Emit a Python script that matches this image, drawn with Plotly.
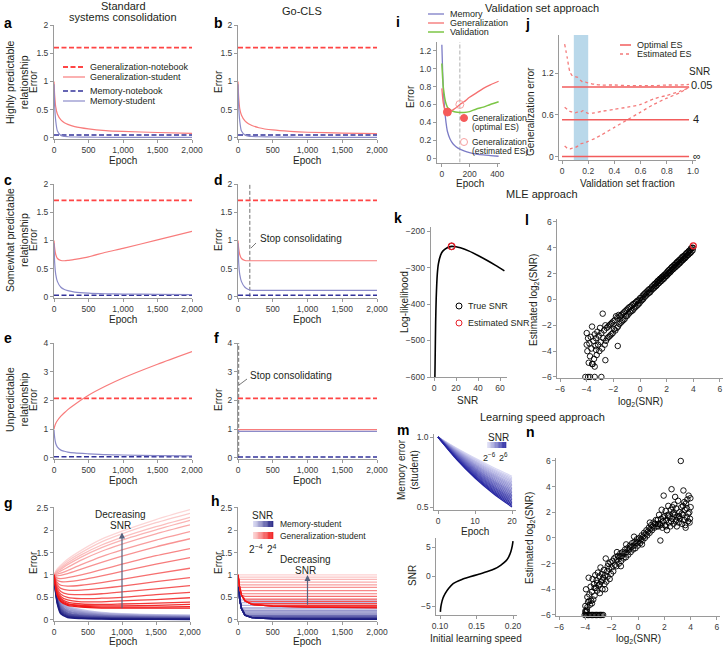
import plotly.graph_objects as go

W, H = 723, 648
FONT = "Liberation Sans"
TXT = "#231f20"
AXC = "#9a9a9a"
TICKC = "#3a3a3a"
ARROWC = "#56627e"

# ======================= DATA =======================
EPOCHS = [0, 10, 25, 50, 100, 150, 200, 300, 500, 750, 1000, 1500, 2000]
EPOCH_TICKS = [0, 500, 1000, 1500, 2000]
EPOCH_TICKTEXT = ["0", "500", "1,000", "1,500", "2,000"]

A_GEN_NB, A_MEM_NB = 1.60, 0.05
A_GEN_ST = [1.0, 0.75, 0.55, 0.42, 0.32, 0.27, 0.24, 0.2, 0.16, 0.13, 0.115, 0.095, 0.08]
A_MEM_ST = [0.95, 0.55, 0.3, 0.12, 0.04, 0.025, 0.02, 0.015, 0.012, 0.01, 0.01, 0.01, 0.01]

B_GEN_NB, B_MEM_NB = 1.60, 0.05
B_GEN_ST = [1.0, 0.72, 0.52, 0.4, 0.3, 0.25, 0.22, 0.18, 0.14, 0.115, 0.1, 0.085, 0.075]
B_MEM_ST = [0.95, 0.55, 0.3, 0.12, 0.05, 0.03, 0.025, 0.02, 0.015, 0.012, 0.01, 0.01, 0.01]

C_GEN_NB, C_MEM_NB = 1.71, 0.03
C_GEN_ST = [1.0, 0.86, 0.75, 0.68, 0.645, 0.64, 0.645, 0.665, 0.71, 0.79, 0.86, 1.01, 1.16]
C_MEM_ST = [0.95, 0.6, 0.4, 0.27, 0.17, 0.13, 0.11, 0.085, 0.065, 0.055, 0.05, 0.045, 0.04]

D_GEN_NB, D_MEM_NB = 1.71, 0.03
D_GEN_ST = [1.0, 0.86, 0.75, 0.68, 0.645, 0.64, 0.64, 0.64, 0.64, 0.64, 0.64, 0.64, 0.64]
D_MEM_ST = [0.95, 0.6, 0.4, 0.27, 0.17, 0.13, 0.115, 0.115, 0.115, 0.115, 0.115, 0.115, 0.115]
D_STOP = 170

E_GEN_NB, E_MEM_NB = 2.07, 0.04
E_GEN_ST = [1.0, 1.1, 1.2, 1.3, 1.45, 1.57, 1.68, 1.86, 2.18, 2.5, 2.78, 3.26, 3.7]
E_MEM_ST = [0.98, 0.7, 0.5, 0.37, 0.27, 0.23, 0.2, 0.17, 0.14, 0.11, 0.1, 0.08, 0.07]

F_GEN_NB, F_MEM_NB = 2.07, 0.03
F_GEN_ST = [1.0, 0.98, 0.98, 0.98, 0.98, 0.98, 0.98, 0.98, 0.98, 0.98, 0.98, 0.98, 0.98]
F_MEM_ST = [0.98, 0.92, 0.92, 0.92, 0.92, 0.92, 0.92, 0.92, 0.92, 0.92, 0.92, 0.92, 0.92]
F_STOP = 10

G_EPOCHS = [0, 25, 50, 100, 200, 400, 700, 1000, 1500, 2000]
G_GEN = [  # low SNR (top) -> high SNR (bottom)
    [1.0, 1.08, 1.14, 1.22, 1.35, 1.55, 1.8, 1.98, 2.24, 2.46],
    [1.0, 1.07, 1.12, 1.19, 1.31, 1.5, 1.74, 1.92, 2.17, 2.38],
    [1.0, 1.06, 1.1, 1.16, 1.27, 1.45, 1.67, 1.84, 2.08, 2.29],
    [1.0, 1.05, 1.08, 1.13, 1.23, 1.4, 1.61, 1.78, 2.01, 2.22],
    [1.0, 1.03, 1.05, 1.09, 1.17, 1.33, 1.53, 1.69, 1.92, 2.12],
    [1.0, 1.01, 1.02, 1.04, 1.1, 1.23, 1.41, 1.56, 1.78, 1.97],
    [1.0, 0.99, 0.98, 0.99, 1.03, 1.13, 1.28, 1.42, 1.63, 1.81],
    [1.0, 0.96, 0.93, 0.92, 0.94, 1.0, 1.12, 1.24, 1.43, 1.59],
    [1.0, 0.93, 0.88, 0.85, 0.85, 0.89, 0.98, 1.08, 1.24, 1.39],
    [1.0, 0.9, 0.83, 0.77, 0.75, 0.77, 0.83, 0.9, 1.03, 1.15],
    [1.0, 0.87, 0.78, 0.7, 0.66, 0.66, 0.7, 0.75, 0.85, 0.94],
    [1.0, 0.84, 0.73, 0.63, 0.57, 0.56, 0.58, 0.62, 0.69, 0.76],
    [1.0, 0.81, 0.68, 0.57, 0.5, 0.47, 0.48, 0.5, 0.56, 0.61],
    [1.0, 0.78, 0.64, 0.52, 0.44, 0.4, 0.4, 0.42, 0.45, 0.49],
    [1.0, 0.76, 0.6, 0.48, 0.39, 0.35, 0.34, 0.35, 0.37, 0.39],
    [1.0, 0.74, 0.57, 0.45, 0.36, 0.32, 0.31, 0.31, 0.32, 0.34],
    [1.0, 0.72, 0.55, 0.42, 0.34, 0.3, 0.28, 0.28, 0.28, 0.29],
    [1.0, 0.7, 0.53, 0.4, 0.32, 0.28, 0.26, 0.26, 0.26, 0.26],
]
G_MEM = [  # low SNR (light) -> high SNR (dark)
    [1.0, 0.8, 0.65, 0.47, 0.32, 0.22, 0.16, 0.13, 0.11, 0.1],
    [1.0, 0.78, 0.62, 0.44, 0.29, 0.2, 0.145, 0.12, 0.1, 0.09],
    [1.0, 0.76, 0.59, 0.41, 0.26, 0.18, 0.13, 0.11, 0.09, 0.08],
    [1.0, 0.74, 0.56, 0.38, 0.23, 0.16, 0.115, 0.095, 0.08, 0.07],
    [1.0, 0.72, 0.53, 0.34, 0.2, 0.14, 0.1, 0.085, 0.07, 0.06],
    [1.0, 0.7, 0.5, 0.31, 0.18, 0.12, 0.09, 0.075, 0.06, 0.05],
    [1.0, 0.68, 0.47, 0.28, 0.15, 0.1, 0.075, 0.06, 0.05, 0.04],
    [1.0, 0.67, 0.45, 0.25, 0.13, 0.085, 0.06, 0.05, 0.04, 0.035],
    [1.0, 0.65, 0.42, 0.22, 0.11, 0.07, 0.05, 0.04, 0.03, 0.025],
    [1.0, 0.64, 0.4, 0.19, 0.09, 0.055, 0.04, 0.03, 0.022, 0.018],
    [1.0, 0.62, 0.38, 0.16, 0.07, 0.04, 0.025, 0.02, 0.015, 0.012],
    [1.0, 0.6, 0.35, 0.13, 0.05, 0.025, 0.015, 0.01, 0.008, 0.005],
]
G_ARROW = (1000, 0.22, 1.95)

H_EPOCHS = [0, 10, 25, 50, 100, 200, 500, 1000, 2000]
H_GEN = [
    [1.0, 1.0, 1.0, 1.0, 1.0, 1.0, 1.0, 1.0, 1.0],
    [1.0, 0.95, 0.95, 0.95, 0.95, 0.95, 0.95, 0.95, 0.95],
    [1.0, 0.9, 0.9, 0.9, 0.9, 0.9, 0.9, 0.9, 0.9],
    [1.0, 0.85, 0.84, 0.84, 0.84, 0.84, 0.84, 0.84, 0.84],
    [1.0, 0.85, 0.78, 0.78, 0.78, 0.78, 0.78, 0.78, 0.78],
    [1.0, 0.85, 0.72, 0.72, 0.72, 0.72, 0.72, 0.72, 0.72],
    [1.0, 0.85, 0.7, 0.65, 0.65, 0.65, 0.65, 0.65, 0.65],
    [1.0, 0.85, 0.7, 0.58, 0.58, 0.58, 0.58, 0.58, 0.58],
    [1.0, 0.85, 0.7, 0.55, 0.52, 0.52, 0.52, 0.52, 0.52],
    [1.0, 0.85, 0.7, 0.55, 0.46, 0.46, 0.46, 0.46, 0.46],
    [1.0, 0.85, 0.7, 0.55, 0.42, 0.41, 0.41, 0.41, 0.41],
    [1.0, 0.85, 0.7, 0.55, 0.42, 0.36, 0.36, 0.36, 0.36],
    [1.0, 0.85, 0.7, 0.55, 0.42, 0.34, 0.32, 0.32, 0.32],
    [1.0, 0.85, 0.7, 0.55, 0.42, 0.34, 0.3, 0.3, 0.3],
    [1.0, 0.85, 0.7, 0.55, 0.42, 0.34, 0.3, 0.28, 0.28],
    [1.0, 0.85, 0.7, 0.55, 0.42, 0.34, 0.3, 0.28, 0.265],
]
H_MEM = [
    [1.0, 0.72, 0.45, 0.44, 0.44, 0.44, 0.44, 0.44, 0.44],
    [1.0, 0.72, 0.45, 0.38, 0.38, 0.38, 0.38, 0.38, 0.38],
    [1.0, 0.72, 0.45, 0.32, 0.32, 0.32, 0.32, 0.32, 0.32],
    [1.0, 0.72, 0.45, 0.26, 0.26, 0.26, 0.26, 0.26, 0.26],
    [1.0, 0.72, 0.45, 0.25, 0.21, 0.21, 0.21, 0.21, 0.21],
    [1.0, 0.72, 0.45, 0.25, 0.17, 0.17, 0.17, 0.17, 0.17],
    [1.0, 0.72, 0.45, 0.25, 0.13, 0.13, 0.13, 0.13, 0.13],
    [1.0, 0.72, 0.45, 0.25, 0.1, 0.1, 0.1, 0.1, 0.1],
    [1.0, 0.72, 0.45, 0.25, 0.1, 0.075, 0.075, 0.075, 0.075],
    [1.0, 0.72, 0.45, 0.25, 0.1, 0.055, 0.055, 0.055, 0.055],
    [1.0, 0.72, 0.45, 0.25, 0.1, 0.045, 0.04, 0.04, 0.04],
    [1.0, 0.72, 0.45, 0.25, 0.1, 0.045, 0.03, 0.03, 0.03],
    [1.0, 0.72, 0.45, 0.25, 0.1, 0.045, 0.02, 0.02, 0.02],
    [1.0, 0.72, 0.45, 0.25, 0.1, 0.045, 0.02, 0.012, 0.012],
    [1.0, 0.72, 0.45, 0.25, 0.1, 0.045, 0.02, 0.012, 0.008],
]
H_ARROW = (1000, 0.3, 1.0)

I_EPOCHS = [0, 10, 20, 30, 40, 60, 80, 100, 130, 160, 200, 250, 300, 350, 410]
I_MEM = [1.27, 0.8, 0.55, 0.4, 0.3, 0.21, 0.16, 0.13, 0.1, 0.08, 0.06, 0.045, 0.035, 0.028, 0.02]
I_GEN = [0.78, 0.62, 0.55, 0.52, 0.515, 0.52, 0.54, 0.56, 0.6, 0.63, 0.68, 0.73, 0.78, 0.82, 0.86]
I_VAL = [1.06, 0.8, 0.68, 0.61, 0.57, 0.54, 0.525, 0.515, 0.51, 0.51, 0.52, 0.55, 0.57, 0.6, 0.63]
I_OPT_ES = (40, 0.515)
I_EST_ES = (130, 0.6)

J_FRAC = [0.02, 0.04, 0.06, 0.08, 0.1, 0.12, 0.14, 0.16, 0.18, 0.2, 0.25, 0.3, 0.4, 0.5, 0.6, 0.7, 0.8, 0.9, 0.97]
J_EST_005 = [1.62, 1.42, 1.22, 1.16, 1.15, 1.14, 1.1, 1.07, 1.07, 1.06, 1.04, 1.03, 1.03, 1.02, 1.02, 1.02, 1.03, 1.03, 1.04]
J_EST_4 = [0.71, 0.68, 0.65, 0.64, 0.63, 0.64, 0.64, 0.66, 0.64, 0.62, 0.63, 0.65, 0.68, 0.71, 0.75, 0.83, 0.88, 0.94, 0.99]
J_EST_INF = [0.15, 0.12, 0.11, 0.12, 0.13, 0.15, 0.18, 0.19, 0.2, 0.22, 0.26, 0.31, 0.42, 0.53, 0.64, 0.75, 0.84, 0.92, 1.0]
J_OPT = [1.0, 0.53, 0.0]
J_SNR_LABELS = ["0.05", "4", "∞"]
J_BAND = (0.09, 0.2)

K_SNR = [0.6, 1, 1.5, 2, 3, 4, 6, 8, 12, 16, 20, 24, 32, 40, 48, 56, 64]
K_LL = [-640, -560, -450, -385, -318, -290, -266, -255, -246, -242, -243, -246, -255, -267, -280, -294, -309]
K_TRUE = (16, -242)
K_EST = (16, -242)

L_X = [3.98, 3.95, 3.9, 3.86, 3.82, 3.78, 3.74, 3.7, 3.66, 3.62, 3.58, 3.54, 3.5, 3.46, 3.42, 3.38, 3.34, 3.3,
       3.26, 3.22, 3.18, 3.14, 3.1, 3.06, 3.02, 2.98, 2.94, 2.9, 2.86, 2.82, 2.78, 2.74, 2.7, 2.66, 2.62, 2.58,
       2.54, 2.5, 2.46, 2.42, 2.38, 2.34, 2.3, 2.26, 2.22, 2.18, 2.14, 2.1, 2.06, 2.02, 1.98, 1.94, 1.9, 1.86,
       1.82, 1.78, 1.74, 1.7, 1.66, 1.62, 1.58, 1.54, 1.5, 1.46, 1.42, 1.38, 1.34, 1.3, 1.26, 1.22, 1.18, 1.14,
       1.1, 1.06, 1.02,
       0.95, 0.9, 0.85, 0.8, 0.75, 0.7, 0.65, 0.6, 0.55, 0.5, 0.45, 0.4, 0.35, 0.3, 0.25, 0.2, 0.15, 0.1, 0.05,
       0.0, -0.05, -0.1, -0.15, -0.2, -0.25, -0.3, -0.35, -0.4, -0.45, -0.5, -0.55, -0.6, -0.65, -0.7, -0.75,
       -0.8, -0.85, -0.9, -0.95, -1.0,
       -1.05, -1.1, -1.15, -1.2, -1.25, -1.3, -1.35, -1.4, -1.45, -1.5, -1.55, -1.6, -1.65, -1.7, -1.75, -1.8,
       -1.85, -1.9, -1.95, -2.0, -2.05, -2.1, -2.15, -2.2, -2.25, -2.3, -2.35, -2.4, -2.45, -2.5, -1.67,
       -2.55, -2.6, -2.65, -2.7, -2.75, -2.8, -2.85, -2.9, -2.95, -3.0, -3.05, -3.1, -3.15, -3.2, -3.25, -3.3,
       -3.35, -3.4, -3.45, -3.5, -3.55, -3.6, -3.65, -3.7, -3.75, -3.8, -3.85, -3.9, -3.95, -4.0, -2.6, -3.4,
       -4.1, -3.9, -3.75, -3.4, -2.9, -3.6, -4.0, -3.3]
L_Y = [4.0, 3.8, 4.0, 3.7, 3.95, 3.6, 3.8, 3.55, 3.75, 3.45, 3.65, 3.4, 3.6, 3.3, 3.5, 3.2, 3.4, 3.15,
       3.35, 3.05, 3.3, 3.0, 3.2, 2.9, 3.1, 2.8, 3.05, 2.75, 2.95, 2.65, 2.9, 2.6, 2.8, 2.5, 2.7, 2.45,
       2.65, 2.35, 2.55, 2.3, 2.5, 2.2, 2.4, 2.1, 2.3, 2.05, 2.25, 1.95, 2.15, 1.85, 2.05, 1.8, 1.95, 1.7,
       1.9, 1.6, 1.8, 1.55, 1.75, 1.45, 1.65, 1.4, 1.6, 1.3, 1.5, 1.25, 1.45, 1.15, 1.35, 1.05, 1.25, 1.0,
       1.2, 0.9, 1.1,
       0.8, 1.0, 0.7, 0.85, 0.55, 0.8, 0.5, 0.7, 0.4, 0.6, 0.3, 0.5, 0.2, 0.4, 0.05, 0.3, -0.05, 0.15, -0.15,
       0.1, -0.3, -0.05, -0.4, -0.1, -0.5, -0.2, -0.6, -0.3, -0.7, -0.35, -0.85, -0.45, -0.9, -0.55, -1.0,
       -0.6, -1.1, -0.7, -1.25, -0.8,
       -1.3, -0.9, -1.5, -1.0, -1.6, -1.1, -1.7, -1.2, -1.8, -1.3, -1.9, -1.2, -2.1, -1.4, -2.2, -1.3,
       -2.4, -1.6, -2.3, -1.7, -2.6, -1.8, -2.7, -1.9, -2.8, -2.0, -2.9, -2.1, -3.0, -2.2, -3.6,
       -3.2, -2.0, -3.5, -2.4, -3.0, -1.1, -3.8, -2.6, -3.3, -2.2, -4.0, -2.8, -3.5, -2.5, -4.3, -3.0,
       -3.6, -2.7, -4.6, -3.2, -5.0, -2.1, -3.8, -2.9, -4.4, -3.4, -4.9, -3.0, -4.0, -3.5, -4.7, -5.2,
       -6.0, -6.0, -6.0, -6.0, -6.0, -5.0, -2.6, -3.9]
L_EST = (4.0, 4.15)

M_EPOCHS = [0, 5, 10, 15, 20]
M_CURVES = [  # low SNR (light) -> high SNR (dark)
    [1.0, 0.921, 0.849, 0.782, 0.72],
    [1.0, 0.918, 0.843, 0.773, 0.71],
    [1.0, 0.915, 0.837, 0.765, 0.70],
    [1.0, 0.911, 0.831, 0.757, 0.69],
    [1.0, 0.908, 0.825, 0.749, 0.68],
    [1.0, 0.905, 0.819, 0.740, 0.67],
    [1.0, 0.901, 0.812, 0.732, 0.66],
    [1.0, 0.898, 0.806, 0.724, 0.65],
    [1.0, 0.894, 0.800, 0.716, 0.64],
    [1.0, 0.891, 0.794, 0.707, 0.63],
    [1.0, 0.887, 0.787, 0.699, 0.62],
    [1.0, 0.884, 0.781, 0.690, 0.61],
    [1.0, 0.880, 0.775, 0.682, 0.60],
    [1.0, 0.876, 0.768, 0.673, 0.59],
    [1.0, 0.873, 0.762, 0.665, 0.58],
    [1.0, 0.869, 0.755, 0.656, 0.57],
    [1.0, 0.865, 0.748, 0.647, 0.56],
    [1.0, 0.861, 0.741, 0.639, 0.55],
    [1.0, 0.857, 0.735, 0.630, 0.54],
    [1.0, 0.853, 0.728, 0.621, 0.53],
    [1.0, 0.849, 0.721, 0.612, 0.52],
    [1.0, 0.845, 0.714, 0.604, 0.51],
    [1.0, 0.841, 0.707, 0.595, 0.50],
]
M_SPEED = [0.1005, 0.101, 0.102, 0.104, 0.107, 0.112, 0.118, 0.13, 0.141, 0.152, 0.164, 0.175, 0.183, 0.19,
           0.194, 0.197, 0.199, 0.2]
M_SNR = [-6, -5.3, -4.6, -3.7, -2.9, -2.0, -1.2, -0.5, -0.06, 0.35, 0.8, 1.3, 1.9, 2.6, 3.3, 4.2, 5.2, 6.0]

N_X = [1.5, 1.55, 1.6, 1.65, 1.7, 1.75, 1.8, 1.85, 1.9, 1.95, 2.0, 2.05, 2.1, 2.15, 2.2, 2.25, 2.3, 2.35, 2.4,
       2.45, 2.5, 2.55, 2.6, 2.65, 2.7, 2.75, 2.8, 2.85, 2.9, 2.95, 3.0, 3.05, 3.1, 3.15, 3.2, 3.25, 3.3, 3.35,
       3.4, 3.45, 3.5, 3.55, 3.6, 3.65, 3.7, 3.75, 3.8, 3.85, 3.9, 3.95, 4.0, 3.98, 3.92, 3.72, 3.52, 3.32,
       3.12, 2.92, 2.72, 2.52, 2.32, 2.12, 1.92, 1.72, 1.52, 3.62, 3.82, 2.62, 2.82, 3.42,
       -2.0, -1.94, -1.88, -1.82, -1.76, -1.7, -1.64, -1.58, -1.52, -1.46, -1.4, -1.34, -1.28, -1.22, -1.16,
       -1.1, -1.04, -0.98, -0.92, -0.86, -0.8, -0.74, -0.68, -0.62, -0.56, -0.5, -0.44, -0.38, -0.32, -0.26,
       -0.2, -0.14, -0.08, -0.02, 0.04, 0.1, 0.16, 0.22, 0.28, 0.34, 0.4, 0.46, 0.52, 0.58, 0.64, 0.7, 0.76,
       0.82, 0.88, 0.94, 1.0, 1.06, 1.12, 1.18, 1.24, 1.3, 1.36, 1.42, -1.6, -0.9, 0.3, -0.3, 0.9, -1.3,
       -2.05, -2.1, -2.15, -2.2, -2.25, -2.3, -2.35, -2.4, -2.45, -2.5, -2.55, -2.6, -2.65, -2.7, -2.75, -2.8,
       -2.85, -2.9, -2.95, -3.0, -3.05, -3.1, -3.15, -3.2, -3.25, -3.3, -3.35, -3.4, -3.45, -3.5, -3.55, -3.6,
       -3.65, -3.7, -3.75, -3.8, -3.85, -3.9, -3.95, -4.0, -3.97, -3.85, -3.7, -3.5, -3.3, -3.1, -2.9, -2.7,
       -2.5, -2.3,
       -4.05, -3.95, -3.85, -3.75, -3.65, -3.55, -3.45, -3.35, -3.25, -3.15, -3.05, -2.95, -2.85, -2.75, -2.65,
       -4.0, -3.9]
N_Y = [1.4, 0.9, 1.8, 1.1, -0.2, 1.5, 2.2, 0.8, 1.3, 3.3, 1.7, 1.0, 2.1, 1.4, 0.6, 1.8, 2.5, 1.2, 1.6,
       0.9, 2.2, 3.8, 1.5, 1.9, 1.1, 2.6, 1.8, 1.3, 2.3, 0.9, 1.6, 2.9, 1.2, 2.0, 1.5, 6.0, 2.4, 1.1,
       1.8, 3.7, 1.4, 2.2, 1.0, 2.7, 1.6, 3.0, 1.3, 3.3, 2.0, 1.5, 2.4, 3.1, 1.2, 2.3, 2.8, 1.9,
       1.7, 1.4, 2.0, 1.3, 1.7, 0.9, 1.6, 1.0, 1.1, 0.8, 1.9, 2.4, 3.2, 2.5,
       -2.3, -1.8, -2.6, -1.6, -2.1, -1.5, -2.2, -1.7, -1.4, -2.0, -1.5, -1.2, -1.8, -1.4, -1.1,
       -1.6, -1.2, -0.9, -1.5, -1.1, -0.8, -1.3, -0.9, -0.6, -1.1, -0.7, -0.4, -0.9, -0.6, -0.3,
       -0.8, -0.4, -0.1, -0.6, -0.3, 0.0, -0.4, -0.1, 0.2, -0.2, 0.1, 0.4, 0.0, 0.3, 0.6, 0.2, 0.5,
       0.8, 0.4, 0.7, 1.0, 0.6, 0.9, 1.2, 0.8, 1.1, 1.4, 0.9, -1.1, -0.5, -0.5, 0.1, 1.2, -2.2,
       -2.8, -1.9, -3.2, -2.4, -2.0, -3.0, -2.6, -3.4, -1.6, -2.9, -3.6, -2.5, -3.1, -4.0, -2.8, -3.4,
       -2.3, -4.3, -3.0, -3.7, -2.7, -4.1, -3.3, -3.9, -2.9, -4.5, -3.6, -4.8, -3.2, -4.2, -4.9, -3.8,
       -5.2, -4.4, -3.1, -5.0, -4.6, -5.6, -4.0, -5.3, -5.8, -5.4, -4.9, -5.1, -3.9, -3.5, -3.6, -3.3,
       -4.0, -2.2,
       -6.0, -6.0, -6.0, -6.0, -6.0, -6.0, -6.0, -6.0, -6.0, -6.0, -6.0, -6.0, -6.0, -6.0, -6.0,
       -5.7, -5.7]

LOG_TICKS = [-6, -4, -2, 0, 2, 4, 6]
LOG_TICKTEXT = ["−6", "−4", "−2", "0", "2", "4", "6"]

# ======================= FIGURE =======================
fig = go.Figure()
_ax = [0]
TICK_FS = 8.5


def axes(xpx, ypx, xr, yr, xt, xtt, yt, ytt):
    _ax[0] += 1
    n = _ax[0]
    s = "" if n == 1 else str(n)
    common = dict(showgrid=False, zeroline=False, showline=True, linecolor=AXC, linewidth=1,
                  ticks="outside", ticklen=3, tickwidth=1, tickcolor=AXC, automargin=False,
                  tickfont=dict(size=TICK_FS, color=TICKC, family=FONT), fixedrange=True, tickmode="array")
    fig.update_layout(**{
        "xaxis" + s: dict(domain=[xpx[0] / W, xpx[1] / W], range=xr, anchor="y" + s,
                          tickvals=xt, ticktext=xtt, **common),
        "yaxis" + s: dict(domain=[1 - ypx[1] / H, 1 - ypx[0] / H], range=yr, anchor="x" + s,
                          tickvals=yt, ticktext=ytt, **common),
    })
    return "x" + s, "y" + s


def line(ax, x, y, color, width=1.2, dash=None, shape="spline", smoothing=0.7):
    fig.add_trace(go.Scatter(x=x, y=y, xaxis=ax[0], yaxis=ax[1], mode="lines",
                             line=dict(color=color, width=width, dash=dash, shape=shape,
                                       smoothing=smoothing if shape == "spline" else None),
                             showlegend=False, hoverinfo="skip"))


def pts(ax, x, y, color="black", size=5.5, filled=False, lw=0.9):
    fig.add_trace(go.Scatter(x=x, y=y, xaxis=ax[0], yaxis=ax[1], mode="markers",
                             marker=dict(symbol="circle" if filled else "circle-open", size=size,
                                         color=color, line=dict(color=color, width=lw)),
                             cliponaxis=False, showlegend=False, hoverinfo="skip"))


def text(x, y, s, size=10, color=TXT, xa="center", ya="middle", angle=0):
    fig.add_annotation(x=x / W, y=1 - y / H, xref="paper", yref="paper", text=s, showarrow=False,
                       font=dict(size=size, color=color, family=FONT), xanchor=xa, yanchor=ya,
                       textangle=angle)


def seg(x0, y0, x1, y1, color, width=1.2, dash=None):
    fig.add_shape(type="line", xref="paper", yref="paper", x0=x0 / W, y0=1 - y0 / H, x1=x1 / W,
                  y1=1 - y1 / H, line=dict(color=color, width=width, dash=dash))


def circ(x, y, r, color, fill=None):
    fig.add_shape(type="circle", xref="paper", yref="paper", x0=(x - r) / W, x1=(x + r) / W,
                  y0=1 - (y + r) / H, y1=1 - (y - r) / H, line=dict(color=color, width=1),
                  fillcolor=fill if fill else "rgba(0,0,0,0)")


def mix(c0, c1, t):
    return "rgb(%d,%d,%d)" % tuple(round(a + (b - a) * t) for a, b in zip(c0, c1))


def gradbar(x0, x1, y0, y1, c0, c1, n=24):
    step = (x1 - x0) / n
    for i in range(n):
        fig.add_shape(type="rect", xref="paper", yref="paper",
                      x0=(x0 + i * step) / W, x1=(x0 + (i + 1) * step + 0.3) / W,
                      y0=1 - y1 / H, y1=1 - y0 / H, line=dict(width=0),
                      fillcolor=mix(c0, c1, i / (n - 1)))


GEN_NB_C = "#ff4545"
GEN_ST_C = "#f87c7c"
MEM_NB_C = "#33339a"
MEM_ST_C = "#8b8bc9"
NB_DASH = "5px,2.5px"

ERR_T = [0, 0.5, 1, 1.5, 2]
ERR_TT = ["0", "0.5", "1", "1.5", "2"]


def consolidation(ax, gen_nb, gen_st, mem_nb, mem_st):
    line(ax, [0, 2000], [gen_nb, gen_nb], GEN_NB_C, 1.8, NB_DASH, "linear")
    line(ax, EPOCHS, gen_st, GEN_ST_C, 1.2)
    line(ax, [0, 2000], [mem_nb, mem_nb], MEM_NB_C, 1.5, NB_DASH, "linear")
    line(ax, EPOCHS, mem_st, MEM_ST_C, 1.2)


# ---- a, b, c, d, e, f ----
ax_a = axes((54, 192), (25, 139), [0, 2000], [-0.02, 2.0], EPOCH_TICKS, EPOCH_TICKTEXT, ERR_T, ERR_TT)
consolidation(ax_a, A_GEN_NB, A_GEN_ST, A_MEM_NB, A_MEM_ST)
ax_b = axes((238, 377), (25, 139), [0, 2000], [-0.02, 2.0], EPOCH_TICKS, EPOCH_TICKTEXT, ERR_T, ERR_TT)
consolidation(ax_b, B_GEN_NB, B_GEN_ST, B_MEM_NB, B_MEM_ST)
ax_c = axes((54, 192), (184, 298), [0, 2000], [-0.02, 2.0], EPOCH_TICKS, EPOCH_TICKTEXT, ERR_T, ERR_TT)
consolidation(ax_c, C_GEN_NB, C_GEN_ST, C_MEM_NB, C_MEM_ST)
ax_d = axes((238, 377), (184, 298), [0, 2000], [-0.02, 2.0], EPOCH_TICKS, EPOCH_TICKTEXT, ERR_T, ERR_TT)
line(ax_d, [D_STOP, D_STOP], [0, 2], "#707070", 1, "4px,2px", "linear")
consolidation(ax_d, D_GEN_NB, D_GEN_ST, D_MEM_NB, D_MEM_ST)
E_T = [0, 1, 2, 3, 4]
E_TT = ["0", "1", "2", "3", "4"]
ax_e = axes((54, 192), (343, 459), [0, 2000], [-0.04, 4.0], EPOCH_TICKS, EPOCH_TICKTEXT, E_T, E_TT)
consolidation(ax_e, E_GEN_NB, E_GEN_ST, E_MEM_NB, E_MEM_ST)
ax_f = axes((238, 377), (343, 459), [0, 2000], [-0.04, 4.0], EPOCH_TICKS, EPOCH_TICKTEXT, E_T, E_TT)
line(ax_f, [F_STOP, F_STOP], [0, 4], "#707070", 1, "4px,2px", "linear")
consolidation(ax_f, F_GEN_NB, F_GEN_ST, F_MEM_NB, F_MEM_ST)

# ---- g ----
G_T = [0, 0.5, 1, 1.5, 2, 2.5]
G_TT = ["0", "0.5", "1", "1.5", "2", "2.5"]
ax_g = axes((54, 190), (507, 621), [0, 2000], [-0.03, 2.52], EPOCH_TICKS, EPOCH_TICKTEXT, G_T, G_TT)
nm = len(G_MEM)
for i, c in enumerate(G_MEM):
    line(ax_g, G_EPOCHS, c, mix((196, 196, 232), (28, 28, 128), i / (nm - 1)), 1.6)
ng = len(G_GEN)
for i, c in enumerate(G_GEN):
    line(ax_g, G_EPOCHS, c, mix((252, 214, 214), (240, 20, 20), i / (ng - 1)), 1.3)
fig.add_annotation(x=G_ARROW[0], y=G_ARROW[2], ax=G_ARROW[0], ay=G_ARROW[1], xref=ax_g[0], yref=ax_g[1],
                   axref=ax_g[0], ayref=ax_g[1], text="", showarrow=True, arrowhead=2, arrowsize=1,
                   arrowwidth=1.2, arrowcolor=ARROWC)

# ---- h ----
ax_h = axes((238, 377), (507, 621), [0, 2000], [-0.03, 2.52], EPOCH_TICKS, EPOCH_TICKTEXT, G_T, G_TT)
nm = len(H_MEM)
for i, c in enumerate(H_MEM):
    line(ax_h, H_EPOCHS, c, mix((200, 200, 235), (28, 28, 128), i / (nm - 1)), 1.4, None, "linear")
ng = len(H_GEN)
for i, c in enumerate(H_GEN):
    line(ax_h, H_EPOCHS, c, mix((252, 210, 210), (240, 20, 20), i / (ng - 1)), 1.2, None, "linear")
fig.add_annotation(x=H_ARROW[0], y=H_ARROW[2], ax=H_ARROW[0], ay=H_ARROW[1], xref=ax_h[0], yref=ax_h[1],
                   axref=ax_h[0], ayref=ax_h[1], text="", showarrow=True, arrowhead=2, arrowsize=1,
                   arrowwidth=1.2, arrowcolor=ARROWC)

# ---- i ----
I_T = [0, 0.2, 0.4, 0.6, 0.8, 1.0, 1.2]
I_TT = ["0", "0.2", "0.4", "0.6", "0.8", "1.0", "1.2"]
ax_i = axes((437, 500), (42, 162.5), [-35, 420], [-0.05, 1.3], [0, 200, 400], ["0", "200", "400"], I_T, I_TT)
line(ax_i, [I_EST_ES[0], I_EST_ES[0]], [-0.05, 1.3], "#b0b0b0", 1, "4px,2px", "linear")
line(ax_i, I_EPOCHS, I_MEM, "#7c7cc6", 1.3)
line(ax_i, I_EPOCHS, I_VAL, "#7cc646", 1.5)
line(ax_i, I_EPOCHS, I_GEN, "#f57070", 1.3)
pts(ax_i, [I_OPT_ES[0]], [I_OPT_ES[1]], "#f55a5a", 8, True)
pts(ax_i, [I_EST_ES[0]], [I_EST_ES[1]], "#f7a0a0", 8, False, 1)

# ---- j ----
ax_j = axes((559.4, 695.6), (35, 160), [-0.02, 1.02], [-0.05, 1.75],
            [0, 0.2, 0.4, 0.6, 0.8, 1.0], ["0", "0.2", "0.4", "0.6", "0.8", "1.0"],
            [0, 0.6, 1.2], ["0", "0.6", "1.2"])
fig.add_shape(type="rect", xref=ax_j[0], yref=ax_j[1] + " domain", x0=J_BAND[0], x1=J_BAND[1], y0=0, y1=1,
              fillcolor="#b9d8ea", line=dict(width=0), layer="below")
for v in J_OPT:
    line(ax_j, [0, 0.97], [v, v], "#f25c5c", 1.5, None, "linear")
for c in (J_EST_005, J_EST_4, J_EST_INF):
    line(ax_j, J_FRAC, c, "#f47a7a", 1.3, "dot")

# ---- k ----
ax_k = axes((430.7, 506.6), (227.4, 377), [-3, 66], [-600, -190], [0, 20, 40, 60], ["0", "20", "40", "60"],
            [-600, -500, -400, -300, -200], ["−600", "−500", "−400", "−300", "−200"])
line(ax_k, K_SNR, K_LL, "black", 1.6)
pts(ax_k, [K_TRUE[0]], [K_TRUE[1]], "black", 6.5, False, 1)
pts(ax_k, [K_EST[0]], [K_EST[1]], "#e8202a", 6.5, False, 1.2)

# ---- l ----
ax_l = axes((557.4, 722.6), (219.4, 377.6), [-6.2, 6.2], [-6.05, 6.2], LOG_TICKS, LOG_TICKTEXT, LOG_TICKS,
            LOG_TICKTEXT)
pts(ax_l, L_X, L_Y, "black", 5.5)
pts(ax_l, [L_EST[0]], [L_EST[1]], "#e8202a", 6, False, 1.3)

# ---- m ----
ax_mt = axes((434.3, 515.7), (434.2, 509.8), [-1, 21], [0.48, 1.02], [0, 10, 20], ["0", "10", "20"],
             [0.5, 1.0], ["0.5", "1.0"])
nmc = len(M_CURVES)
for i, c in enumerate(M_CURVES):
    line(ax_mt, M_EPOCHS, c, mix((218, 218, 244), (36, 36, 160), i / (nmc - 1)), 1.2)
ax_mb = axes((436.35, 516.65), (538.15, 614.85), [0.095, 0.205], [-6.5, 6.5], [0.10, 0.15, 0.20],
             ["0.10", "0.15", "0.20"], [-5, 0, 5], ["−5", "0", "5"])
line(ax_mb, M_SPEED, M_SNR, "black", 1.6)

# ---- n ----
ax_n = axes((556.4, 719.6), (458.4, 615.6), [-6.2, 6.2], [-6.05, 6.2], LOG_TICKS, LOG_TICKTEXT, LOG_TICKS,
            LOG_TICKTEXT)
pts(ax_n, N_X, N_Y, "black", 5.5)

# ======================= TEXT / DECORATION =======================
text(123, 6, "Standard", 11)
text(123, 17, "systems consolidation", 11)
text(302, 11, "Go-CLS", 11)
text(542, 8, "Validation set approach", 11)
text(542, 194, "MLE approach", 11)
text(542, 417, "Learning speed approach", 11)

text(17, 82, "Highly predictable<br>relationship", 10.5, angle=-90)
text(17, 240, "Somewhat predictable<br>relationship", 10.5, angle=-90)
text(17, 400, "Unpredictable<br>relationship", 10.5, angle=-90)

for lab, (x, y) in {"a": (8, 23), "b": (218, 23), "c": (8, 180), "d": (218, 180), "e": (8, 338),
                    "f": (216, 338), "g": (8, 503), "h": (215, 501), "i": (398, 22), "j": (527, 24),
                    "k": (398, 218), "l": (527, 220), "m": (403, 430), "n": (530, 432)}.items():
    text(x, y, "<b>%s</b>" % lab, 14, "black")

for x in (123, 307):
    text(x, 160, "Epoch", 10)
    text(x, 319, "Epoch", 10)
    text(x, 480, "Epoch", 10)
    text(x, 641, "Epoch", 10)
for x in (33, 218):
    for y in (82, 240, 400, 563):
        text(x, y, "Error", 10, angle=-90)
text(470, 183, "Epoch", 10)
text(410, 97, "Error", 10, angle=-90)
text(627, 183, "Validation set fraction", 10)
text(530, 112, "Generalization error", 10, angle=-90)
text(467, 400, "SNR", 10)
text(404, 302, "Log-likelihood", 10, angle=-90)
text(640, 402, "log<sub>2</sub>(SNR)", 10)
text(534, 300, "Estimated log<sub>2</sub>(SNR)", 10, angle=-90)
text(475, 531, "Epoch", 10)
text(408, 470, "Memory error<br>(student)", 10, angle=-90)
text(476, 638, "Initial learning speed", 10)
text(412, 576, "SNR", 10, angle=-90)
text(638, 639, "log<sub>2</sub>(SNR)", 10)
text(530, 538, "Estimated log<sub>2</sub>(SNR)", 10, angle=-90)

seg(63, 67, 85, 67, GEN_NB_C, 1.8, NB_DASH)
text(88, 67, "Generalization-notebook", 9, xa="left")
seg(63, 77, 85, 77, GEN_ST_C, 1.2)
text(88, 77, "Generalization-student", 9, xa="left")
seg(63, 91, 85, 91, MEM_NB_C, 1.5, NB_DASH)
text(88, 91, "Memory-notebook", 9, xa="left")
seg(63, 101, 85, 101, MEM_ST_C, 1.2)
text(88, 101, "Memory-student", 9, xa="left")

text(258, 239, "Stop consolidating", 10, xa="left")
seg(251, 248, 256, 243, "#555555", 0.8)
text(248, 375, "Stop consolidating", 10, xa="left")
seg(239, 385, 247, 379, "#555555", 0.8)

text(121, 514, "Decreasing", 10)
text(121, 525, "SNR", 10)
text(305, 559, "Decreasing", 10)
text(305, 570, "SNR", 10)

text(262, 515, "SNR", 10)
gradbar(253, 273, 521, 527, (222, 222, 245), (28, 28, 128))
text(278, 524, "Memory-student", 8.5, xa="left")
gradbar(253, 273, 532, 539, (252, 215, 215), (240, 20, 20))
text(278, 536, "Generalization-student", 8.5, xa="left")
text(256, 549, "2<sup>−4</sup>", 10)
text(272, 549, "2<sup>4</sup>", 10)

seg(428, 14, 444, 14, "#7c7cc6", 1.3)
text(448, 14, "Memory", 9, xa="left")
seg(428, 23, 444, 23, "#f57070", 1.3)
text(448, 23, "Generalization", 9, xa="left")
seg(428, 32, 444, 32, "#7cc646", 1.5)
text(448, 32, "Validation", 9, xa="left")
circ(464, 118, 3.5, "#f55a5a", "#f55a5a")
text(470, 118, "Generalization", 8.5, xa="left")
text(470, 127, "(optimal ES)", 8.5, xa="left")
circ(464, 142, 3.5, "#f7a0a0")
text(470, 142, "Generalization", 8.5, xa="left")
text(470, 151, "(estimated ES)", 8.5, xa="left")

seg(620, 45, 631, 45, "#f25c5c", 1.5)
text(635, 45, "Optimal ES", 9, xa="left")
seg(620, 54, 631, 54, "#f47a7a", 1.3, "dot")
text(635, 54, "Estimated ES", 9, xa="left")
text(699, 71, "SNR", 10)
text(689, 85, J_SNR_LABELS[0], 11, xa="left")
text(691, 119, J_SNR_LABELS[1], 11, xa="left")
text(691, 156, J_SNR_LABELS[2], 11, xa="left")

circ(459, 306, 3, "black")
text(466, 306, "True SNR", 9, xa="left")
circ(459, 323, 3, "#e8202a")
text(466, 323, "Estimated SNR", 9, xa="left")

text(498, 437, "SNR", 10)
gradbar(487, 506, 442, 448, (230, 230, 248), (36, 36, 160))
text(489, 457, "2<sup>−6</sup>", 9)
text(503, 457, "2<sup>6</sup>", 9)

fig.update_layout(width=W, height=H, margin=dict(l=0, r=0, t=0, b=0), plot_bgcolor="white",
                  paper_bgcolor="white", font=dict(family=FONT, color=TXT), showlegend=False)
fig.write_html("out.html", config={"displayModeBar": False},
               post_script="document.body.style.margin='0px';document.body.style.padding='0px';")
